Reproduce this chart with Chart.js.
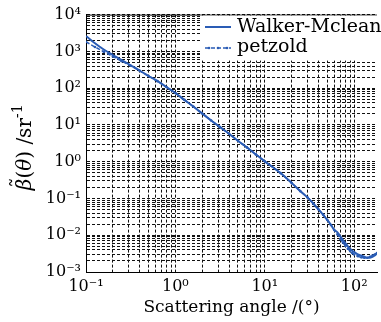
<!DOCTYPE html>
<html>
<head>
<meta charset="utf-8">
<script src="https://cdn.jsdelivr.net/npm/chart.js@4.4.1/dist/chart.umd.min.js"></script>
<style>
    html, body { margin: 0; padding: 0; background: #fff; }
</style>
</head>
<body>
<canvas id="chart" width="381" height="322"></canvas>
<script>
// values
const angles = [0.1, 0.126, 0.158, 0.2, 0.251, 0.316, 0.398, 0.501, 0.631, 0.794,
    1, 1.259, 1.585, 1.995, 2.512, 3.162, 3.981, 5.012, 6.31, 7.943,
    10, 15, 20, 25, 30, 35, 40, 45, 50, 55, 60, 65, 70, 75, 80, 85, 90, 95,
    100, 110, 120, 130, 140, 150, 160, 170, 180];
const walkerMclean = [2630, 1660, 1122, 794, 575, 417, 302, 214, 155, 107,
    74, 48, 31.6, 20.4, 13.2, 8.7, 5.75, 3.7, 2.45, 1.58,
    1.02, 0.49, 0.263, 0.158, 0.107, 0.072, 0.05, 0.036, 0.026, 0.019, 0.0138, 0.012, 0.0093, 0.0074, 0.006, 0.005, 0.0043, 0.0038,
    0.0035, 0.003, 0.0028, 0.0026, 0.00245, 0.00245, 0.0026, 0.0028, 0.0032];
const petzold = [1820, 1318, 977, 724, 537, 407, 295, 214, 155, 107,
    74, 48, 31.6, 20.4, 13.2, 8.7, 5.75, 3.7, 2.45, 1.58,
    1.02, 0.49, 0.263, 0.158, 0.107, 0.072, 0.05, 0.036, 0.026, 0.019, 0.0138, 0.0105, 0.0079, 0.0063, 0.0051, 0.0043, 0.0037, 0.0033,
    0.003, 0.0027, 0.0025, 0.00245, 0.00245, 0.0026, 0.0028, 0.003, 0.0033];

const seriesNames = ['Walker-Mclean', 'petzold'];
const xMajorTicks = [0.1, 1, 10, 100];
const xTickLabels = ['10⁻¹', '10⁰', '10¹', '10²'];
const yMajorTicks = [1e-3, 1e-2, 1e-1, 1, 10, 100, 1000, 10000];
const yTickLabels = ['10⁻³', '10⁻²', '10⁻¹', '10⁰', '10¹', '10²', '10³', '10⁴'];
const xTitle = 'Scattering angle /(°)';

const blue = '#2a5cb5';
const serif = "'DejaVu Serif', 'Liberation Serif', serif";

// 1..9 x 10^n between the decades
function logTicks(majors, max) {
    const out = [];
    majors.forEach(m => {
        for (let k = 1; k <= 9; k++) {
            if (m * k <= max * 1.0001) out.push(m * k);
        }
    });
    return out;
}

function labelFor(majors, labels, v) {
    const i = majors.findIndex(m => Math.abs(v / m - 1) < 1e-6);
    return i >= 0 ? labels[i] : '';
}

const decor = {
    id: 'decor',
    afterDraw(chart) {
        const ctx = chart.ctx;
        const a = chart.chartArea;
        ctx.save();
        // top frame line
        ctx.strokeStyle = '#000';
        ctx.lineWidth = 1;
        ctx.beginPath();
        ctx.moveTo(a.left, a.top + 0.5);
        ctx.lineTo(a.right, a.top + 0.5);
        ctx.stroke();

        // legend box
        ctx.fillStyle = '#fff';
        ctx.fillRect(200, a.top + 1, 181, 45);
        ctx.strokeStyle = blue;
        ctx.lineWidth = 2;
        ctx.beginPath();
        ctx.moveTo(205, 27);
        ctx.lineTo(231, 27);
        ctx.stroke();
        ctx.lineWidth = 1.5;
        ctx.setLineDash([4, 2]);
        ctx.beginPath();
        ctx.moveTo(205, 48);
        ctx.lineTo(231, 48);
        ctx.stroke();
        ctx.setLineDash([]);
        ctx.fillStyle = blue;
        [209, 218, 227].forEach(px => {
            ctx.beginPath();
            ctx.arc(px, 48, 1.3, 0, Math.PI * 2);
            ctx.fill();
        });
        ctx.fillStyle = '#000';
        ctx.font = '19px ' + serif;
        ctx.textBaseline = 'middle';
        ctx.fillText(seriesNames[0], 237, 27);
        ctx.fillText(seriesNames[1], 237, 47);

        // y title with italic beta (tilde drawn on top) and theta
        const parts = [
            ['italic 20px ' + serif, 'β', 0],
            ['20px ' + serif, '(', 0],
            ['italic 20px ' + serif, 'θ', 0],
            ['20px ' + serif, ') /sr', 0],
            ['14px ' + serif, '-1', -8]
        ];
        let total = 0;
        parts.forEach(p => { ctx.font = p[0]; total += ctx.measureText(p[1]).width; });
        ctx.translate(26, (a.top + a.bottom) / 2 + 4);
        ctx.rotate(-Math.PI / 2);
        let cx = -total / 2;
        parts.forEach((p, i) => {
            ctx.font = p[0];
            const w = ctx.measureText(p[1]).width;
            ctx.fillText(p[1], cx, p[2]);
            if (i === 0) {
                ctx.font = '20px ' + serif;
                const tw = ctx.measureText('˜').width;
                ctx.fillText('˜', cx + w / 2 - tw / 2 + 2, -6);
            }
            cx += w;
        });
        ctx.restore();
    }
};

const xTicks = logTicks(xMajorTicks, 180);
const yTicks = logTicks(yMajorTicks, 1e4);

new Chart(document.getElementById('chart').getContext('2d'), {
    type: 'line',
    data: {
        datasets: [
            {
                label: seriesNames[0],
                data: angles.map((a, i) => ({ x: a, y: walkerMclean[i] })),
                borderColor: blue,
                borderWidth: 2,
                pointRadius: 0,
                cubicInterpolationMode: 'monotone',
                fill: false
            },
            {
                label: seriesNames[1],
                data: angles.map((a, i) => ({ x: a, y: petzold[i] })),
                borderColor: blue,
                backgroundColor: blue,
                borderWidth: 1.5,
                borderDash: [4, 2],
                pointRadius: 1.3,
                pointBorderWidth: 0,
                pointBackgroundColor: blue,
                cubicInterpolationMode: 'monotone',
                fill: false
            }
        ]
    },
    options: {
        responsive: false,
        animation: false,
        devicePixelRatio: 1,
        layout: { padding: { top: 13, left: 0, right: 0, bottom: 0 } },
        plugins: { legend: { display: false }, tooltip: { enabled: false } },
        scales: {
            x: {
                type: 'logarithmic',
                min: 0.1,
                max: 180,
                afterBuildTicks: s => { s.ticks = xTicks.map(v => ({ value: v })); },
                afterFit: s => { s.height = 50; },
                ticks: {
                    autoSkip: false,
                    maxRotation: 0,
                    color: '#000',
                    padding: 5,
                    font: { family: serif, size: 16 },
                    callback: v => labelFor(xMajorTicks, xTickLabels, v)
                },
                grid: { color: '#111', lineWidth: 1, drawTicks: false },
                border: { display: true, color: '#000', width: 1, dash: [3, 2] },
                title: { display: true, text: xTitle, color: '#000', font: { family: serif, size: 17 }, padding: { top: 0, bottom: 4 } }
            },
            y: {
                type: 'logarithmic',
                min: 1e-3,
                max: 1e4,
                afterBuildTicks: s => { s.ticks = yTicks.map(v => ({ value: v })); },
                afterFit: s => { s.width = 86; },
                ticks: {
                    autoSkip: false,
                    color: '#000',
                    padding: 5,
                    font: { family: serif, size: 16 },
                    callback: v => labelFor(yMajorTicks, yTickLabels, v)
                },
                grid: { color: '#111', lineWidth: 1, drawTicks: false },
                border: { display: true, color: '#000', width: 1, dash: [3, 2] }
            }
        }
    },
    plugins: [decor]
});
</script>
</body>
</html>
